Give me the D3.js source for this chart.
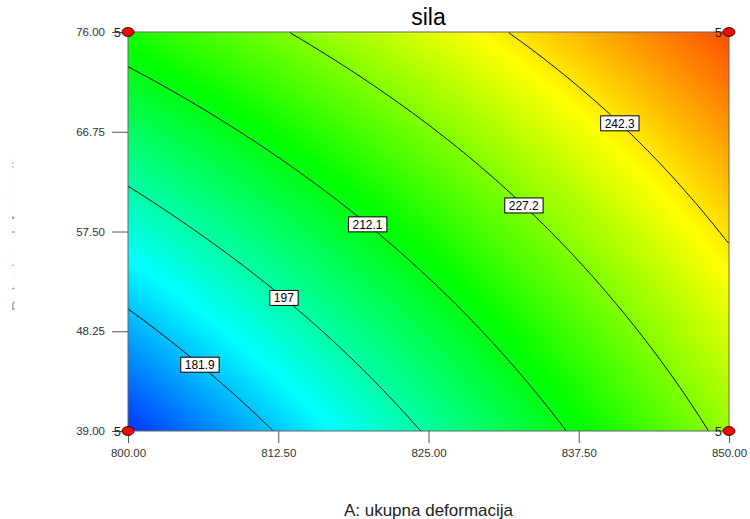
<!DOCTYPE html>
<html><head><meta charset="utf-8">
<script src="https://cdn.jsdelivr.net/npm/d3@7"></script>
<style>body{margin:0;background:#fff}svg{display:block}</style>
</head><body>
<svg id="chart" width="750" height="519"></svg>
<script>
// ---------------- data ----------------
const title = "sila";
const xLabel = "A: ukupna deformacija";
const yLabel = "B: brzina deformacije";
const xTicks = [800, 812.5, 825, 837.5, 850];
const yTicks = [39, 48.25, 57.5, 66.75, 76];
// response "sila" read at grid of (xTicks × yTicks); one array per B level
const silaB39    = [167.4, 182.4, 197.8, 213.4, 229.4];
const silaB48_25 = [179.2, 192.9, 207.0, 221.4, 236.1];
const silaB57_5  = [191.4, 203.8, 216.6, 229.7, 243.2];
const silaB66_75 = [203.8, 215.0, 226.5, 238.3, 250.5];
const silaB76    = [216.6, 226.5, 236.8, 247.3, 258.2];
const contourLevels = [181.9, 197, 212.1, 227.2, 242.3];
const designX = [800, 850, 800, 850];
const designY = [39, 39, 76, 76];
const designCount = [5, 5, 5, 5];

// ---------------- layout ----------------
const svg = d3.select("#chart");
const W = 750, H = 519;
const m = {left: 128, top: 32, right: 729, bottom: 431};
const pw = m.right - m.left, ph = m.bottom - m.top;
const FONT = "Arial, 'Liberation Sans', sans-serif";

const x = d3.scaleLinear().domain([800, 850]).range([m.left, m.right]);
const y = d3.scaleLinear().domain([39, 76]).range([m.bottom, m.top]);
const grid = [silaB39, silaB48_25, silaB57_5, silaB66_75, silaB76];

const color = d3.scaleLinear()
  .domain([162, 188, 214, 240, 266])
  .range(["#0000ff", "#00ffff", "#00ff00", "#ffff00", "#ff0000"])
  .clamp(true);

// smooth (Catmull-Rom) value lookup on the grid
const xi = d3.scaleLinear().domain(d3.extent(xTicks)).range([0, xTicks.length - 1]).clamp(true);
const yi = d3.scaleLinear().domain(d3.extent(yTicks)).range([0, yTicks.length - 1]).clamp(true);
function cr(p, u) {
  const n = p.length;
  const get = k => k < 0 ? 3 * p[0] - 3 * p[1] + p[2]
                 : k >= n ? 3 * p[n - 1] - 3 * p[n - 2] + p[n - 3] : p[k];
  const i = Math.min(Math.floor(u), n - 2), t = u - i;
  const P0 = get(i - 1), P1 = get(i), P2 = get(i + 1), P3 = get(i + 2);
  return 0.5 * (2 * P1 + (-P0 + P2) * t + (2 * P0 - 5 * P1 + 4 * P2 - P3) * t * t + (-P0 + 3 * P1 - 3 * P2 + P3) * t * t * t);
}
function valueAt(A, B) {
  const u = xi(A), v = yi(B);
  return cr(grid.map(row => cr(row, u)), v);
}

// ---------------- colour field ----------------
const cv = document.createElement("canvas");
cv.width = pw; cv.height = ph;
const ctx = cv.getContext("2d");
const img = ctx.createImageData(pw, ph);
for (let py = 0; py < ph; py++) {
  const B = y.invert(m.top + py + 0.5);
  for (let px = 0; px < pw; px++) {
    const A = x.invert(m.left + px + 0.5);
    const c = d3.rgb(color(valueAt(A, B)));
    const k = (py * pw + px) * 4;
    img.data[k] = c.r; img.data[k + 1] = c.g; img.data[k + 2] = c.b; img.data[k + 3] = 255;
  }
}
ctx.putImageData(img, 0, 0);
svg.append("image")
  .attr("x", m.left).attr("y", m.top).attr("width", pw).attr("height", ph)
  .attr("preserveAspectRatio", "none")
  .attr("href", cv.toDataURL());

// ---------------- contours ----------------
const nx = 300, ny = 200;
const vals = new Array(nx * ny);
for (let j = 0; j < ny; j++) {
  const B = y.invert(m.top + (j + 0.5) * ph / ny);
  for (let i = 0; i < nx; i++) {
    const A = x.invert(m.left + (i + 0.5) * pw / nx);
    vals[j * nx + i] = valueAt(A, B);
  }
}
const contours = d3.contours().size([nx, ny]).thresholds(contourLevels)(vals);
const toPx = p => [m.left + p[0] * pw / nx, m.top + p[1] * ph / ny];

function ringToLines(ring) {
  const pts = ring.slice(0, ring.length - 1);
  const n = pts.length;
  const bseg = (p, q) => (p[0] <= 0 && q[0] <= 0) || (p[0] >= nx && q[0] >= nx) ||
                         (p[1] <= 0 && q[1] <= 0) || (p[1] >= ny && q[1] >= ny);
  let k = -1;
  for (let i = 0; i < n; i++) if (bseg(pts[i], pts[(i + 1) % n])) { k = i; break; }
  if (k < 0) return [ring];
  const lines = []; let cur = null;
  for (let s = 1; s <= n; s++) {
    const i = (k + s) % n, p = pts[i], q = pts[(i + 1) % n];
    if (bseg(p, q)) { if (cur && cur.length > 1) lines.push(cur); cur = null; }
    else if (!cur) cur = [p, q];
    else cur.push(q);
  }
  if (cur && cur.length > 1) lines.push(cur);
  return lines;
}

// where along each contour its label sits (fraction of length)
const labelPos = {181.9: 0.48, 197: 0.5, 212.1: 0.5, 227.2: 0.5, 242.3: 0.47};
const line = d3.line();
const labelsData = [];
function cumLen(P) {
  const cum = [0];
  for (let i = 1; i < P.length; i++) cum.push(cum[i - 1] + Math.hypot(P[i][0] - P[i - 1][0], P[i][1] - P[i - 1][1]));
  return cum;
}
contours.forEach(ct => {
  ct.coordinates.forEach(poly => poly.forEach(ring => {
    ringToLines(ring).forEach(l => {
      let P = l.map(toPx);
      if (P[0][0] > P[P.length - 1][0]) P.reverse();
      const cum = cumLen(P);
      const total = cum[cum.length - 1];
      if (total < 25) return; // skip corner artefacts
      svg.append("path").attr("d", line(P)).attr("fill", "none")
        .attr("stroke", "#000").attr("stroke-width", 1);
      const target = total * (labelPos[ct.value] || 0.5);
      let i = 1; while (i < cum.length - 1 && cum[i] < target) i++;
      const f = (target - cum[i - 1]) / ((cum[i] - cum[i - 1]) || 1);
      labelsData.push({v: ct.value, x: P[i - 1][0] + f * (P[i][0] - P[i - 1][0]), y: P[i - 1][1] + f * (P[i][1] - P[i - 1][1])});
    });
  }));
});

labelsData.forEach(d => {
  const g = svg.append("g").attr("transform", `translate(${d.x},${d.y})`);
  const t = g.append("text").text(d3.format("")(d.v)).attr("font-family", FONT).attr("font-size", 12)
    .attr("text-anchor", "middle").attr("dy", "0.35em").attr("fill", "#000");
  const bb = t.node().getBBox();
  g.insert("rect", "text").attr("x", bb.x - 4).attr("y", -7.5).attr("width", bb.width + 8).attr("height", 15)
    .attr("fill", "#fff").attr("stroke", "#000").attr("stroke-width", 1);
});

// ---------------- frame & axes ----------------
svg.append("rect").attr("x", m.left).attr("y", m.top).attr("width", pw).attr("height", ph)
  .attr("fill", "none").attr("stroke", "#666").attr("stroke-width", 1);

const xAxis = svg.append("g").attr("transform", `translate(0,${m.bottom})`)
  .call(d3.axisBottom(x).tickValues(xTicks).tickFormat(d3.format(".2f")).tickSize(12).tickSizeOuter(0));
xAxis.select(".domain").remove();
xAxis.selectAll("line").attr("stroke", "#555");
xAxis.selectAll("text").attr("font-family", FONT).attr("font-size", 11.5).attr("fill", "#333").attr("y", 18);

const yAxis = svg.append("g").attr("transform", `translate(${m.left},0)`)
  .call(d3.axisLeft(y).tickValues(yTicks).tickFormat(d3.format(".2f")).tickSize(16).tickSizeOuter(0));
yAxis.select(".domain").remove();
yAxis.selectAll("line").attr("stroke", "#555");
yAxis.selectAll("text").attr("font-family", FONT).attr("font-size", 11.5).attr("fill", "#333").attr("x", -23);

// design points
designX.forEach((dx, i) => {
  const cx = x(dx), cy = y(designY[i]);
  svg.append("text").text(designCount[i]).attr("x", cx - 7).attr("y", cy).attr("dy", "0.35em")
    .attr("text-anchor", "end").attr("font-family", FONT).attr("font-size", 13).attr("fill", "#222");
  svg.append("ellipse").attr("cx", cx).attr("cy", cy).attr("rx", 6).attr("ry", 4.5)
    .attr("fill", "#ff0000").attr("stroke", "#000").attr("stroke-width", 0.8);
});

// titles
svg.append("text").text(title).attr("x", (m.left + m.right) / 2).attr("y", 25)
  .attr("text-anchor", "middle").attr("font-family", FONT).attr("font-size", 23).attr("fill", "#000");
svg.append("text").text(xLabel).attr("x", (m.left + m.right) / 2).attr("y", 516)
  .attr("text-anchor", "middle").attr("font-family", FONT).attr("font-size", 17).attr("fill", "#222");

// y label: only a thin sliver is visible in the original
const clip = svg.append("defs").append("clipPath").attr("id", "ylabclip");
clip.append("rect").attr("x", 12).attr("y", 0).attr("width", 2.5).attr("height", H);
svg.append("g").attr("clip-path", "url(#ylabclip)")
  .append("text").text(yLabel)
  .attr("transform", `translate(24,${(m.top + m.bottom) / 2}) rotate(-90)`)
  .attr("text-anchor", "middle").attr("font-family", FONT).attr("font-size", 17).attr("fill", "#999");
</script>
</body></html>
